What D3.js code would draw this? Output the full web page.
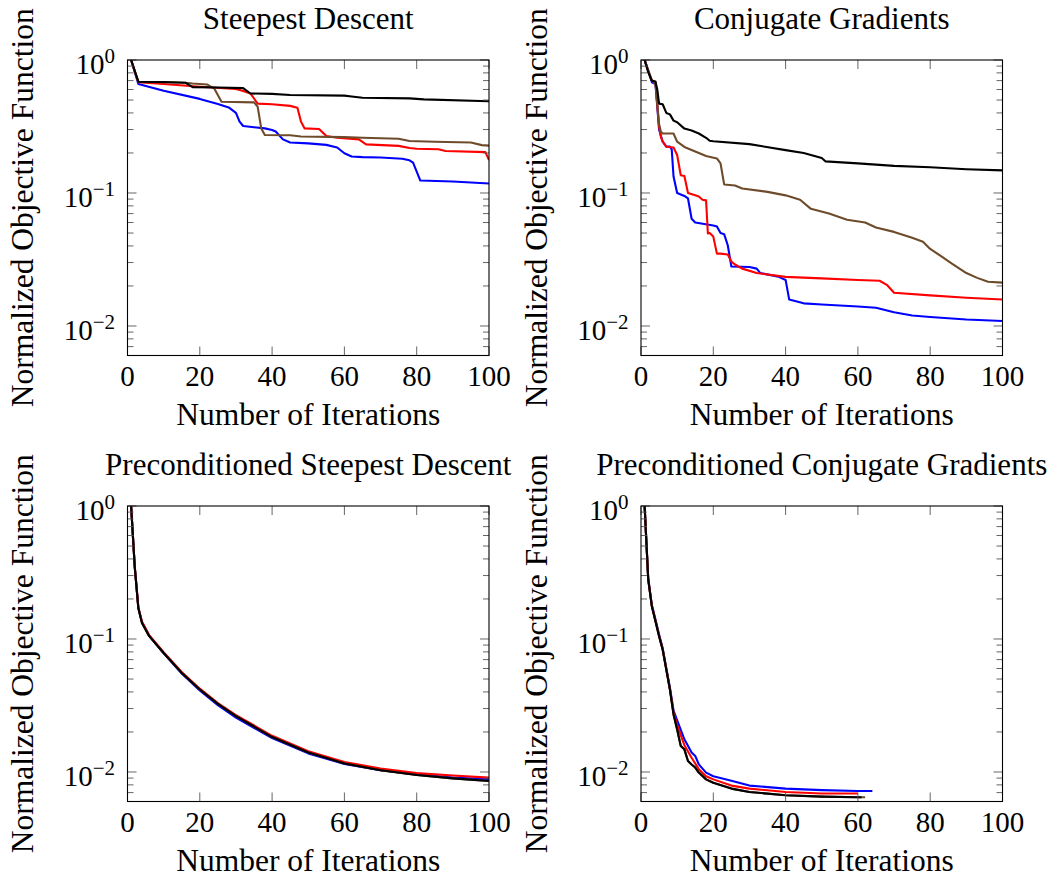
<!DOCTYPE html>
<html>
<head>
<meta charset="utf-8">
<script src="https://cdn.jsdelivr.net/npm/d3@7"></script>
<style>
  html, body { margin: 0; padding: 0; background: #fff; }
  svg { display: block; }
  text { font-family: "Liberation Serif", "Times New Roman", serif; fill: #000; }
</style>
</head>
<body>
<svg id="chart" width="1062" height="880"></svg>
<script>
// ---------------- DATA ----------------
const titles = ["Steepest Descent", "Conjugate Gradients",
                "Preconditioned Steepest Descent", "Preconditioned Conjugate Gradients"];
const xLabel = "Number of Iterations";
const yLabel = "Normalized Objective Function";
const xTicks = [0, 20, 40, 60, 80, 100];
const yMajorTicks = [1, 0.1, 0.01];
const yTickExponents = ["0", "\u22121", "\u22122"];
const xDomain = [0, 100];
const yDomain = [0.006, 1];
const seriesColors = { blue: "#0000ff", red: "#ff0000", brown: "#6e4c2b", black: "#000000" };

// Steepest Descent
const sdBlue = [[1,1],[3,0.66],[10,0.588],[20,0.51],[25,0.467],[28,0.44],[30,0.40],[31,0.344],[32,0.319],[35,0.312],[38,0.306],[40,0.298],[41,0.29],[43,0.253],[45,0.24],[50,0.236],[55,0.23],[58,0.22],[60,0.199],[62,0.188],[65,0.186],[70,0.185],[76,0.181],[78,0.176],[79,0.169],[80,0.145],[81,0.124],[90,0.122],[100,0.118]];
const sdRed = [[1,1],[3,0.68],[10,0.66],[20,0.63],[30,0.605],[32,0.585],[34,0.56],[36,0.47],[40,0.465],[45,0.452],[47,0.437],[48,0.344],[49,0.306],[53,0.303],[55,0.268],[58,0.26],[64,0.253],[66,0.232],[75,0.226],[78,0.218],[80,0.215],[86,0.213],[88,0.207],[99,0.203],[100,0.177]];
const sdBrown = [[1,1],[3,0.685],[10,0.68],[16,0.675],[18,0.665],[22,0.655],[24,0.61],[26,0.486],[35,0.48],[36,0.446],[37,0.306],[38,0.273],[45,0.272],[48,0.266],[60,0.263],[65,0.26],[75,0.256],[78,0.246],[85,0.243],[95,0.24],[98,0.229],[100,0.227]];
const sdBlack = [[1,1],[3,0.687],[10,0.683],[16,0.675],[18,0.625],[25,0.622],[32,0.615],[34,0.56],[40,0.556],[45,0.545],[60,0.54],[62,0.532],[65,0.52],[78,0.515],[80,0.51],[82,0.506],[100,0.49]];

// Conjugate Gradients
const cgBlue = [[1,1],[3,0.68],[4,0.66],[5,0.3],[6,0.243],[7,0.223],[8,0.223],[8.5,0.213],[9,0.133],[10,0.1],[12,0.095],[13,0.091],[14,0.064],[15,0.06],[20,0.057],[21,0.056],[22,0.05],[23,0.049],[24,0.0405],[25,0.028],[30,0.0278],[32,0.027],[33,0.025],[38,0.0235],[40,0.0222],[41,0.0158],[45,0.0148],[50,0.0145],[60,0.014],[65,0.0137],[70,0.0127],[75,0.012],[80,0.0117],[90,0.0112],[100,0.0109]];
const cgRed = [[1,1],[3,0.7],[4,0.68],[5,0.316],[5.5,0.264],[6,0.243],[7,0.223],[9,0.22],[10,0.193],[11,0.136],[12,0.134],[13,0.1],[15,0.096],[16,0.094],[17,0.089],[18,0.088],[18.5,0.0496],[19,0.05],[20,0.047],[21,0.035],[22,0.035],[24,0.0345],[25,0.0305],[26,0.029],[28,0.027],[32,0.025],[40,0.0234],[50,0.0228],[60,0.0222],[66,0.0219],[68,0.0204],[70,0.0178],[80,0.017],[90,0.0163],[100,0.0158]];
const cgBrown = [[1,1],[3,0.7],[4,0.66],[5,0.33],[5.5,0.289],[6,0.28],[9,0.28],[10,0.243],[12,0.222],[15,0.205],[18,0.19],[21,0.182],[22,0.167],[23,0.116],[26,0.114],[28,0.108],[35,0.102],[40,0.096],[44,0.089],[47,0.076],[52,0.07],[57,0.063],[62,0.06],[65,0.055],[70,0.051],[75,0.046],[78,0.043],[80,0.038],[83,0.0335],[86,0.0295],[90,0.025],[93,0.023],[96,0.0215],[100,0.0212]];
const cgBlack = [[1,1],[2,0.81],[3,0.7],[4,0.69],[4.5,0.6],[5,0.47],[6,0.465],[7,0.4],[8,0.39],[9,0.35],[10,0.34],[12,0.305],[14,0.295],[16,0.28],[18,0.26],[19,0.247],[20,0.245],[30,0.233],[40,0.21],[45,0.2],[48,0.19],[50,0.183],[51,0.173],[60,0.167],[70,0.16],[80,0.156],[90,0.151],[100,0.148]];

// Preconditioned Steepest Descent
const psdBlue = [[1,1],[2,0.35],[3,0.172],[4,0.134],[6,0.106],[10,0.078],[15,0.055],[20,0.041],[25,0.0318],[30,0.0256],[40,0.018],[50,0.0138],[60,0.0115],[70,0.0103],[80,0.0096],[90,0.0091],[100,0.0088]];
const psdRed = [[1,1],[2,0.352],[3,0.173],[4,0.135],[6,0.107],[10,0.0795],[15,0.0565],[20,0.0423],[25,0.033],[30,0.0268],[40,0.0187],[50,0.0143],[60,0.0119],[70,0.0106],[80,0.0098],[90,0.0094],[100,0.00907]];
const psdBrown = [[1,1],[2,0.35],[3,0.17],[4,0.132],[6,0.105],[10,0.0785],[15,0.0556],[20,0.0417],[25,0.0325],[30,0.0263],[40,0.0183],[50,0.014],[60,0.0116],[70,0.0103],[80,0.0095],[90,0.00896],[100,0.00856]];
const psdBlack = [[1,1],[2,0.35],[3,0.17],[4,0.132],[6,0.105],[10,0.0785],[15,0.0556],[20,0.0417],[25,0.0325],[30,0.0263],[40,0.0183],[50,0.014],[60,0.0116],[70,0.0103],[80,0.0095],[90,0.00896],[100,0.00856]];

// Preconditioned Conjugate Gradients
const pcgBlue = [[1,1],[2,0.285],[3,0.18],[4,0.14],[5,0.108],[6,0.085],[7,0.06],[8,0.043],[9,0.029],[10,0.0244],[12,0.0176],[14,0.014],[15,0.0132],[16,0.0114],[18,0.0099],[20,0.0093],[25,0.0086],[30,0.0079],[40,0.0075],[50,0.0073],[60,0.0072],[64,0.0072]];
const pcgRed = [[1,1],[2,0.283],[3,0.178],[4,0.138],[5,0.106],[6,0.084],[7,0.0595],[8,0.042],[9,0.028],[10,0.0225],[12,0.0159],[14,0.0128],[16,0.0105],[18,0.0093],[20,0.0088],[25,0.0079],[30,0.0075],[40,0.00708],[50,0.0069],[60,0.0069]];
const pcgBrown = [[1,1],[2,0.279],[3,0.176],[4,0.136],[5,0.105],[6,0.083],[7,0.0589],[8,0.0417],[9,0.0271],[10,0.0209],[11,0.0157],[12,0.0148],[13,0.0121],[14,0.0114],[15,0.0108],[16,0.0099],[18,0.0088],[20,0.0083],[25,0.0075],[30,0.00708],[40,0.00668],[50,0.00653],[60,0.00646],[62,0.00646]];
const pcgBlack = [[1,1],[2,0.279],[3,0.176],[4,0.136],[5,0.105],[6,0.083],[7,0.0589],[8,0.0417],[9,0.0271],[10,0.0209],[11,0.0157],[12,0.0148],[13,0.0121],[14,0.0114],[15,0.0108],[16,0.0099],[18,0.0088],[20,0.0083],[25,0.0075],[30,0.00708],[40,0.00668],[50,0.00653],[60,0.00646],[61,0.00646]];

const panelsData = [
  [["blue", sdBlue], ["red", sdRed], ["brown", sdBrown], ["black", sdBlack]],
  [["blue", cgBlue], ["red", cgRed], ["brown", cgBrown], ["black", cgBlack]],
  [["blue", psdBlue], ["red", psdRed], ["brown", psdBrown], ["black", psdBlack]],
  [["blue", pcgBlue], ["red", pcgRed], ["brown", pcgBrown], ["black", pcgBlack]]
];

// ---------------- LAYOUT ----------------
const W = 361.5, H = 295.5;
const origins = [[127.5, 60], [641, 60], [127.5, 506], [641, 506]];

const svg = d3.select("#chart");
const defs = svg.append("defs");
defs.append("clipPath").attr("id", "plotclip")
  .append("rect").attr("x", 0).attr("y", 0).attr("width", W).attr("height", H);

const x = d3.scaleLinear().domain(xDomain).range([0, W]);
const y = d3.scaleLog().domain(yDomain).range([H, 0]);

// minor tick values
const minorY = [];
for (const dec of [0.001, 0.01, 0.1]) {
  for (let k = 2; k <= 9; k++) {
    const v = +(k * dec).toPrecision(3);
    if (v >= yDomain[0] && v <= yDomain[1]) minorY.push(v);
  }
}

panelsData.forEach((series, i) => {
  const [ox, oy] = origins[i];
  const g = svg.append("g").attr("transform", `translate(${ox},${oy})`);

  // lines
  const line = d3.line().x(d => x(d[0])).y(d => y(d[1]));
  const pg = g.append("g").attr("clip-path", "url(#plotclip)");
  series.forEach(([c, data]) => {
    pg.append("path").datum(data)
      .attr("d", line)
      .attr("fill", "none")
      .attr("stroke", seriesColors[c])
      .attr("stroke-width", 2.1)
      .attr("stroke-linejoin", "round");
  });

  // ticks (inward)
  const tg = g.append("g").attr("stroke", "#555").attr("stroke-width", 0.9);
  xTicks.forEach(t => {
    tg.append("line").attr("x1", x(t)).attr("x2", x(t)).attr("y1", H).attr("y2", H - 9);
    tg.append("line").attr("x1", x(t)).attr("x2", x(t)).attr("y1", 0).attr("y2", 9);
  });
  yMajorTicks.forEach(t => {
    tg.append("line").attr("x1", 0).attr("x2", 9).attr("y1", y(t)).attr("y2", y(t));
    tg.append("line").attr("x1", W).attr("x2", W - 9).attr("y1", y(t)).attr("y2", y(t));
  });
  minorY.forEach(t => {
    tg.append("line").attr("x1", 0).attr("x2", 6).attr("y1", y(t)).attr("y2", y(t));
    tg.append("line").attr("x1", W).attr("x2", W - 6).attr("y1", y(t)).attr("y2", y(t));
  });

  // frame
  g.append("rect").attr("x", 0).attr("y", 0).attr("width", W).attr("height", H)
    .attr("fill", "none").attr("stroke", "#000").attr("stroke-width", 1.1);

  // x tick labels
  xTicks.forEach(t => {
    g.append("text").attr("x", x(t)).attr("y", H + 30)
      .attr("text-anchor", "middle").attr("font-size", 29).text(t);
  });

  // y tick labels
  yMajorTicks.forEach((t, j) => {
    const tx = g.append("text").attr("x", -12.5).attr("y", y(t) + 14)
      .attr("text-anchor", "end").attr("font-size", 29);
    tx.append("tspan").text("10");
    tx.append("tspan").attr("dy", -11).attr("font-size", 21).text(yTickExponents[j]);
  });

  // title
  g.append("text").attr("x", W / 2).attr("y", -31)
    .attr("text-anchor", "middle").attr("font-size", 31).text(titles[i]);

  // x label
  g.append("text").attr("x", W / 2).attr("y", H + 69)
    .attr("text-anchor", "middle").attr("font-size", 31.5).text(xLabel);

  // y label
  g.append("text")
    .attr("transform", `translate(${-94.5},${H / 2}) rotate(-90)`)
    .attr("text-anchor", "middle").attr("font-size", 31.5).text(yLabel);
});
</script>
</body>
</html>
